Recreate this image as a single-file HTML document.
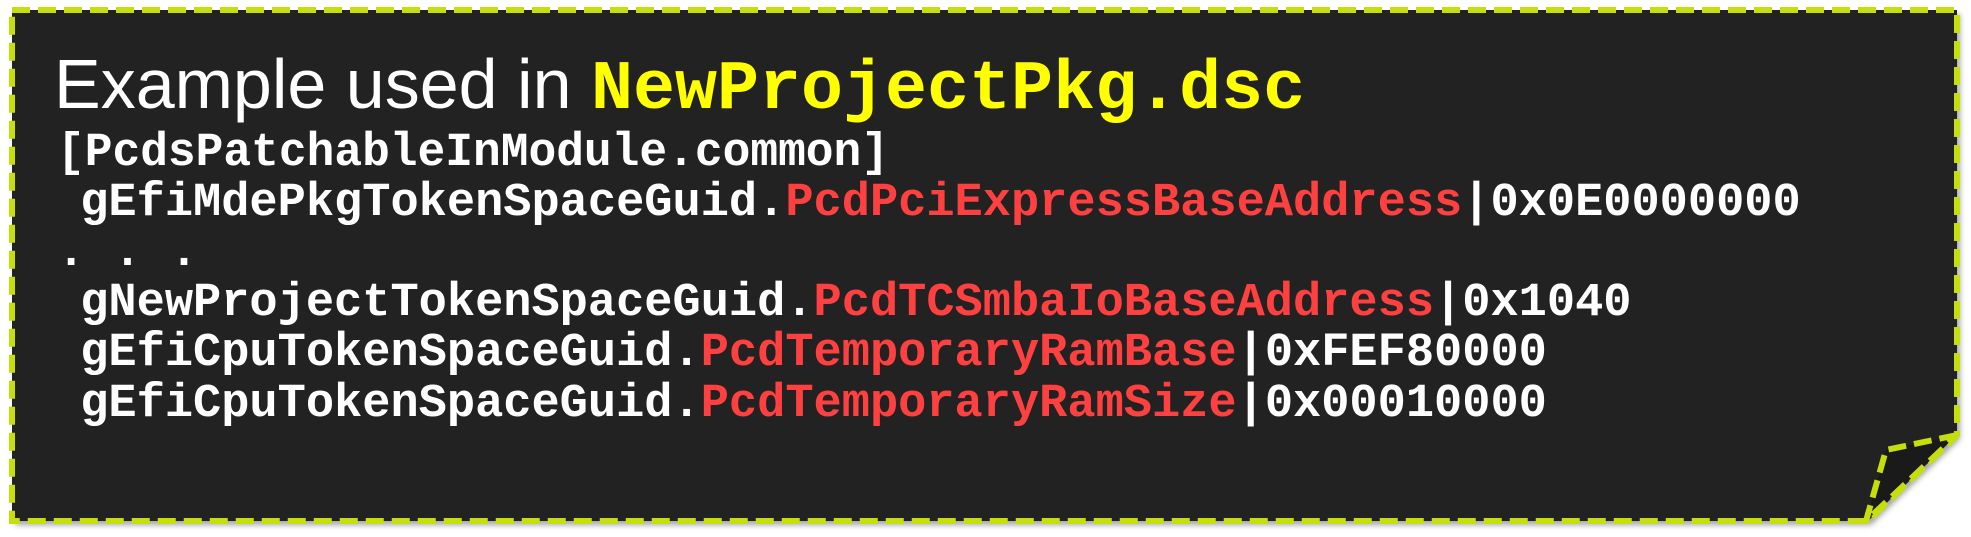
<!DOCTYPE html>
<html><head><style>
html,body{margin:0;padding:0;background:#fff;}
svg{display:block;}
.m{font-family:"Liberation Mono",monospace;font-weight:bold;font-size:47px;fill:#fff;white-space:pre;}
.r{fill:#ff4040;}
</style></head><body>
<svg width="1971" height="537" viewBox="0 0 1971 537" xmlns="http://www.w3.org/2000/svg">
<defs><filter id="sh" x="-5%" y="-5%" width="110%" height="115%"><feDropShadow dx="3" dy="4" stdDeviation="3" flood-color="#000" flood-opacity="0.35"/></filter></defs>
<path d="M12,10 L1957,10 L1957,435 L1868,521 L12,521 Z" fill="#202020" filter="url(#sh)"/>
<path d="M12,10 L1957,10 L1957,435 L1868,521 L12,521 Z" fill="none" stroke="#c6df0a" stroke-width="6" stroke-dasharray="18,8"/>
<path d="M1957,435 L1886,450 L1866,521 Z" fill="#1a1a1a" stroke="#c6df0a" stroke-width="6" stroke-dasharray="18,8" stroke-linejoin="round"/>
<text x="54" y="108" font-family="Liberation Sans, sans-serif" font-size="70" fill="#fff">Example used in <tspan font-family="Liberation Mono, monospace" font-weight="bold" font-size="70" fill="#ffff00">NewProjectPkg.dsc</tspan></text>
<text class="m" x="57" y="165" textLength="832" lengthAdjust="spacingAndGlyphs">[PcdsPatchableInModule.common]</text>
<text class="m" x="52" y="215"> gEfiMdePkgTokenSpaceGuid.<tspan class="r">PcdPciExpressBaseAddress</tspan>|0x0E0000000</text>
<text class="m" x="57" y="265">. . .</text>
<text class="m" x="52" y="315"> gNewProjectTokenSpaceGuid.<tspan class="r">PcdTCSmbaIoBaseAddress</tspan>|0x1040</text>
<text class="m" x="52" y="365"> gEfiCpuTokenSpaceGuid.<tspan class="r">PcdTemporaryRamBase</tspan>|0xFEF80000</text>
<text class="m" x="52" y="416"> gEfiCpuTokenSpaceGuid.<tspan class="r">PcdTemporaryRamSize</tspan>|0x00010000</text>
</svg>
</body></html>
